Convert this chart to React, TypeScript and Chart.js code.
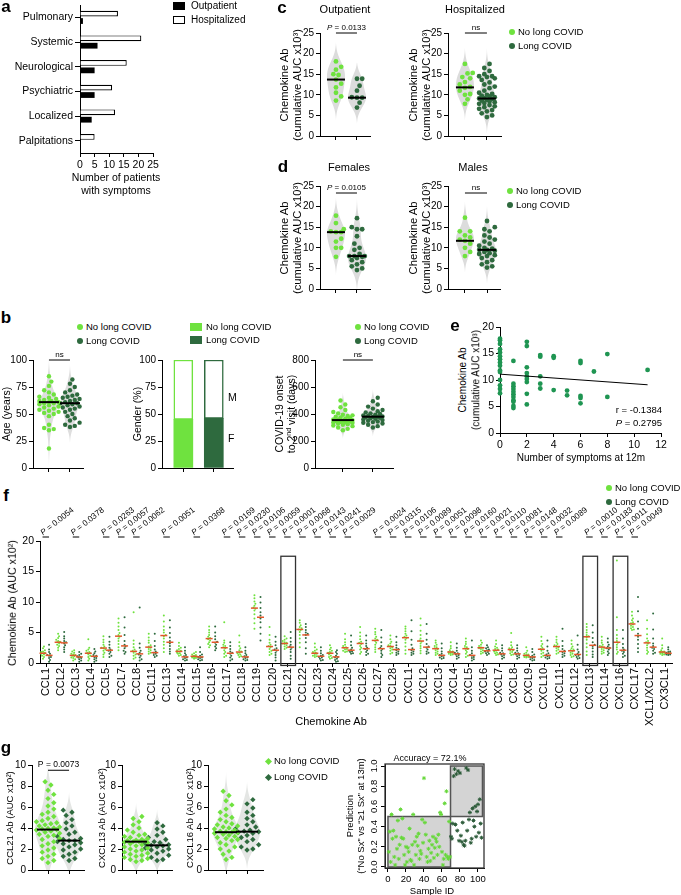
import React, { useEffect, useRef } from 'react';
import { Chart, registerables } from 'chart.js';
Chart.register(...registerables);

const FONT = '"Liberation Sans", Arial, Helvetica, sans-serif';
Chart.defaults.font.family = FONT;
Chart.defaults.color = '#000';

const LIGHT = '#6fe23f';
const DARK = '#2e6a3e';
const E_COLOR = '#1f9552';
const MED_RED = '#e2572b';

// ---------------- DATA ----------------
// a
const A_CATEGORIES = ['Pulmonary', 'Systemic', 'Neurological', 'Psychiatric', 'Localized', 'Palpitations'];
const A_HOSPITALIZED = [13, 21, 16, 11, 12, 5];
const A_OUTPATIENT = [1, 6, 5, 5, 4, 0];

// b
const B_AGE_NOLONG = [85, 80, 76, 72, 70, 68, 66, 65, 64, 63, 62, 62, 61, 61, 60, 60, 59, 58, 57, 56, 55, 54, 53, 52, 51, 50, 48, 40, 37, 36, 35, 18];
const B_AGE_LONG = [82, 78, 75, 72, 70, 68, 67, 66, 65, 64, 63, 62, 61, 60, 60, 59, 58, 57, 56, 55, 54, 52, 50, 48, 46, 44, 42, 40, 39, 38];
const B_AGE_MEDIANS = [61, 60];
const B_GENDER_F = [45, 46];
const B_ONSET_NOLONG = [500, 470, 450, 430, 415, 405, 395, 390, 385, 380, 375, 370, 365, 360, 357, 355, 353, 350, 348, 345, 342, 340, 337, 335, 330, 325, 320, 315, 310, 300, 290, 280];
const B_ONSET_LONG = [520, 495, 470, 455, 440, 430, 420, 412, 405, 400, 395, 390, 386, 382, 380, 378, 375, 372, 368, 365, 360, 355, 350, 345, 340, 335, 330, 320, 310, 300];
const B_ONSET_MEDIANS = [355, 380];

// c
const C_OUT_NOLONG = [18.1, 16.8, 16.1, 15.0, 14.8, 13.7, 12.7, 11.8, 10.5, 9.6, 8.6];
const C_OUT_LONG = [13.9, 13.9, 12.2, 11.0, 9.4, 9.3, 9.3, 8.1, 6.9];
const C_OUT_MEDIANS = [13.7, 9.3];
const C_HOSP_NOLONG = [17.5, 15.3, 15.2, 14.3, 14.0, 13.1, 12.5, 11.9, 11.7, 11.0, 10.2, 10.0, 8.9, 7.8];
const C_HOSP_LONG = [17.5, 16.5, 15.8, 15.0, 14.5, 14.5, 14.3, 14.0, 13.6, 13.0, 12.5, 12.0, 11.6, 11.0, 10.5, 10.2, 10.0, 9.8, 9.6, 9.4, 9.2, 9.1, 9.0, 8.8, 8.6, 8.4, 8.2, 8.0, 7.8, 7.5, 7.2, 7.0, 6.6, 6.3, 6.0, 5.5, 5.0, 4.6];
const C_HOSP_MEDIANS = [11.8, 9.1];

// d
const D_FEM_NOLONG = [17.8, 16.0, 14.5, 14.0, 13.8, 13.8, 12.2, 11.5, 10.0, 10.0, 7.8];
const D_FEM_LONG = [17.2, 15.0, 14.5, 14.5, 12.8, 11.0, 10.0, 9.5, 8.5, 8.0, 8.0, 8.0, 7.8, 7.5, 7.0, 6.5, 6.0, 5.5, 5.0, 4.6];
const D_FEM_MEDIANS = [13.8, 8.0];
const D_MALE_NOLONG = [17.3, 14.0, 14.0, 13.0, 12.5, 12.0, 11.7, 11.0, 10.0, 9.0, 8.0];
const D_MALE_LONG = [16.5, 15.0, 14.5, 14.0, 13.0, 12.5, 12.0, 11.5, 11.0, 10.5, 10.0, 9.8, 9.5, 9.5, 9.3, 9.0, 8.7, 8.5, 8.2, 8.0, 7.5, 7.0, 6.5, 6.0, 5.5, 5.2];
const D_MALE_MEDIANS = [11.7, 9.5];

// e
const E_SYMPTOMS = [0, 0, 0, 0, 0, 0, 0, 0, 0, 0, 0, 0, 0, 0, 0, 1, 1, 1, 1, 1, 1, 1, 1, 1, 1, 1, 2, 2, 2, 2, 2, 2, 2, 2, 2, 3, 3, 3, 3, 3, 4, 4, 4, 5, 5, 6, 6, 6, 6, 6, 7, 8, 8, 11];
const E_AB = [17.8, 17.5, 16.8, 15.8, 15.2, 14.5, 13.9, 13.3, 12.7, 11.8, 11.5, 10.0, 9.0, 8.3, 7.5, 13.6, 9.3, 8.8, 8.3, 7.8, 7.3, 6.8, 6.2, 5.9, 5.1, 4.7, 17.2, 16.4, 12.4, 11.3, 10.7, 10.2, 9.6, 7.4, 5.4, 14.7, 14.4, 10.7, 9.3, 8.4, 14.5, 14.2, 8.1, 8.0, 7.1, 13.6, 13.2, 7.0, 6.6, 5.6, 11.6, 14.9, 6.8, 11.9];
const E_FIT_X = [0, 11];
const E_FIT_Y = [11.1, 9.1];

// f
const F_CATEGORIES = ['CCL1', 'CCL2', 'CCL3', 'CCL4', 'CCL5', 'CCL7', 'CCL8', 'CCL11', 'CCL13', 'CCL14', 'CCL15', 'CCL16', 'CCL17', 'CCL18', 'CCL19', 'CCL20', 'CCL21', 'CCL22', 'CCL23', 'CCL24', 'CCL25', 'CCL26', 'CCL27', 'CCL28', 'CXCL1', 'CXCL2', 'CXCL3', 'CXCL4', 'CXCL5', 'CXCL6', 'CXCL7', 'CXCL8', 'CXCL9', 'CXCL10', 'CXCL11', 'CXCL12', 'CXCL13', 'CXCL14', 'CXCL16', 'CXCL17', 'XCL1/XCL2', 'CX3CL1'];
const F_PVALUES = ['0.0054', '', '0.0378', '', '0.0263', '0.0057', '0.0062', '', '0.0051', '', '0.0368', '', '0.0169', '0.0230', '0.0106', '0.0059', '0.0001', '0.0068', '0.0143', '0.0241', '0.0029', '', '0.0024', '0.0315', '0.0106', '0.0089', '0.0051', '0.0098', '0.0160', '0.0021', '0.0110', '0.0081', '0.0148', '0.0032', '0.0089', '', '0.0010', '0.0183', '0.0011', '0.0049', '', ''];
const F_MED_NOLONG = [1.6, 3.4, 1.25, 1.6, 2.45, 4.4, 1.9, 2.6, 4.5, 1.9, 1.1, 4.0, 2.5, 1.8, 9.0, 2.7, 3.2, 5.5, 1.6, 1.6, 2.5, 3.2, 3.7, 2.7, 4.15, 3.6, 2.35, 1.8, 2.35, 2.5, 2.1, 2.2, 1.25, 2.25, 2.7, 2.0, 4.3, 2.6, 3.4, 6.4, 3.3, 1.8];
const F_MED_LONG = [1.25, 3.3, 1.0, 1.1, 2.1, 2.8, 1.5, 1.7, 3.4, 1.0, 1.0, 3.4, 1.6, 1.0, 7.5, 2.1, 2.6, 4.6, 1.1, 1.0, 2.1, 2.35, 2.35, 2.2, 2.2, 2.6, 1.25, 1.5, 1.25, 2.0, 1.5, 1.5, 1.0, 1.25, 1.9, 1.4, 2.9, 2.45, 2.1, 4.5, 2.6, 1.6];
const F_NOLONG = [
  [2.7, 2.4, 2.1, 1.9, 1.8, 1.7, 1.6, 1.5, 1.4, 1.2, 1.0, 0.7],
  [4.8, 4.4, 4.1, 3.8, 3.6, 3.5, 3.4, 3.2, 3.0, 2.8, 2.5, 2.1],
  [2.1, 1.9, 1.7, 1.5, 1.4, 1.3, 1.2, 1.1, 0.9, 0.8, 0.6, 0.4],
  [3.9, 2.5, 2.2, 2.0, 1.8, 1.7, 1.6, 1.4, 1.2, 1.0, 0.7, 0.4],
  [4.4, 3.8, 3.4, 3.0, 2.7, 2.5, 2.4, 2.2, 2.0, 1.7, 1.4, 1.0],
  [7.3, 6.6, 6.0, 5.4, 4.9, 4.6, 4.3, 4.0, 3.6, 3.1, 2.6, 2.1],
  [8.3, 3.7, 3.1, 2.6, 2.2, 2.0, 1.9, 1.7, 1.4, 1.2, 0.9, 0.7],
  [4.8, 4.2, 3.7, 3.3, 2.9, 2.7, 2.5, 2.3, 2.1, 1.9, 1.7, 1.5],
  [7.8, 6.8, 6.0, 5.4, 5.0, 4.6, 4.4, 4.0, 3.5, 3.0, 2.4, 1.8],
  [3.3, 2.8, 2.5, 2.3, 2.1, 2.0, 1.9, 1.7, 1.6, 1.5, 1.3, 1.2],
  [1.8, 1.6, 1.4, 1.3, 1.2, 1.1, 1.1, 1.0, 0.9, 0.9, 0.8, 0.7],
  [6.0, 5.4, 5.0, 4.6, 4.3, 4.1, 3.9, 3.7, 3.4, 3.1, 2.9, 2.6],
  [6.7, 3.7, 3.3, 3.0, 2.8, 2.6, 2.4, 2.1, 1.8, 1.5, 1.2, 1.0],
  [4.5, 3.4, 2.8, 2.4, 2.1, 1.9, 1.7, 1.6, 1.4, 1.3, 1.1, 1.0],
  [11.1, 10.6, 10.1, 9.7, 9.4, 9.1, 8.9, 8.6, 8.0, 7.3, 6.5, 5.6],
  [5.9, 4.6, 3.8, 3.3, 3.0, 2.8, 2.6, 2.3, 2.0, 1.8, 1.5, 1.3],
  [4.4, 4.0, 3.8, 3.6, 3.4, 3.3, 3.2, 3.1, 2.9, 2.7, 2.5, 2.3],
  [7.0, 6.6, 6.2, 5.9, 5.7, 5.5, 5.4, 5.1, 4.6, 4.0, 3.3, 2.6],
  [3.2, 2.6, 2.2, 2.0, 1.8, 1.7, 1.6, 1.5, 1.3, 1.2, 1.1, 1.0],
  [2.9, 2.5, 2.2, 2.0, 1.8, 1.7, 1.6, 1.4, 1.2, 1.0, 0.8, 0.7],
  [4.8, 3.9, 3.4, 3.0, 2.8, 2.6, 2.5, 2.3, 2.2, 2.0, 1.9, 1.8],
  [5.9, 5.0, 4.4, 3.9, 3.5, 3.3, 3.1, 2.8, 2.5, 2.2, 1.8, 1.5],
  [5.6, 5.1, 4.7, 4.3, 4.0, 3.8, 3.6, 3.3, 3.0, 2.6, 2.2, 1.8],
  [4.5, 3.9, 3.5, 3.2, 2.9, 2.8, 2.6, 2.4, 2.2, 2.0, 1.7, 1.5],
  [6.0, 5.6, 5.2, 4.8, 4.5, 4.3, 4.1, 3.8, 3.3, 2.7, 2.1, 1.5],
  [7.3, 6.2, 5.3, 4.6, 4.0, 3.7, 3.5, 3.2, 2.8, 2.4, 2.0, 1.6],
  [3.7, 3.3, 3.0, 2.8, 2.6, 2.4, 2.3, 2.1, 1.9, 1.7, 1.5, 1.3],
  [3.4, 2.8, 2.4, 2.1, 1.9, 1.8, 1.8, 1.7, 1.6, 1.5, 1.4, 1.3],
  [4.0, 3.5, 3.1, 2.8, 2.6, 2.4, 2.3, 2.1, 1.8, 1.5, 1.2, 1.0],
  [3.7, 3.3, 3.0, 2.8, 2.6, 2.5, 2.4, 2.3, 2.1, 1.9, 1.7, 1.5],
  [3.7, 3.1, 2.7, 2.5, 2.3, 2.2, 2.0, 1.9, 1.7, 1.6, 1.4, 1.3],
  [4.9, 3.4, 2.9, 2.6, 2.4, 2.3, 2.1, 2.0, 1.8, 1.6, 1.4, 1.3],
  [2.6, 2.0, 1.7, 1.5, 1.4, 1.3, 1.2, 1.2, 1.1, 1.0, 1.0, 0.9],
  [4.3, 3.6, 3.1, 2.8, 2.5, 2.3, 2.2, 2.0, 1.7, 1.5, 1.2, 1.0],
  [4.3, 3.8, 3.4, 3.1, 2.9, 2.8, 2.6, 2.4, 2.2, 2.0, 1.7, 1.5],
  [3.7, 3.1, 2.7, 2.4, 2.2, 2.1, 1.9, 1.7, 1.5, 1.3, 1.1, 1.0],
  [6.4, 5.9, 5.4, 5.0, 4.6, 4.4, 4.2, 3.8, 3.2, 2.6, 1.9, 1.3],
  [4.3, 3.7, 3.3, 3.0, 2.8, 2.7, 2.5, 2.3, 2.1, 1.9, 1.7, 1.5],
  [16.8, 7.5, 5.4, 4.6, 4.0, 3.6, 3.3, 3.0, 2.6, 2.2, 1.8, 1.5],
  [8.4, 7.8, 7.3, 7.0, 6.7, 6.5, 6.3, 6.1, 5.9, 5.7, 5.5, 5.4],
  [7.0, 5.6, 4.7, 4.0, 3.6, 3.4, 3.2, 2.9, 2.5, 2.1, 1.8, 1.5],
  [4.0, 2.9, 2.4, 2.1, 1.9, 1.8, 1.8, 1.7, 1.6, 1.5, 1.4, 1.3],
];
const F_LONG = [
  [3.0, 2.2, 1.8, 1.5, 1.3, 1.2, 1.0, 0.8, 0.5, 0.2],
  [5.1, 4.4, 4.0, 3.6, 3.4, 3.2, 2.9, 2.6, 2.2, 1.8],
  [1.8, 1.5, 1.3, 1.1, 1.0, 0.9, 0.8, 0.6, 0.4, 0.2],
  [2.3, 1.9, 1.6, 1.3, 1.2, 1.0, 0.8, 0.6, 0.4, 0.2],
  [4.3, 3.5, 3.0, 2.5, 2.2, 2.0, 1.8, 1.5, 1.2, 1.0],
  [7.5, 5.8, 4.6, 3.6, 3.0, 2.7, 2.4, 2.0, 1.8, 1.5],
  [9.1, 3.2, 2.5, 2.0, 1.7, 1.4, 1.2, 0.9, 0.6, 0.4],
  [4.8, 3.6, 2.8, 2.2, 1.9, 1.7, 1.5, 1.3, 1.2, 1.0],
  [7.0, 5.8, 4.9, 4.2, 3.6, 3.2, 2.8, 2.3, 1.9, 1.5],
  [2.6, 2.0, 1.6, 1.3, 1.1, 0.9, 0.8, 0.6, 0.5, 0.4],
  [2.6, 1.8, 1.4, 1.2, 1.0, 0.9, 0.8, 0.6, 0.5, 0.4],
  [6.0, 5.0, 4.4, 3.9, 3.5, 3.3, 3.0, 2.7, 2.4, 2.1],
  [3.4, 2.8, 2.3, 1.9, 1.7, 1.5, 1.2, 0.9, 0.6, 0.4],
  [2.6, 2.0, 1.6, 1.3, 1.1, 0.9, 0.8, 0.6, 0.5, 0.4],
  [10.8, 9.9, 9.0, 8.3, 7.8, 7.3, 6.7, 5.8, 4.8, 3.7],
  [4.3, 3.5, 2.9, 2.4, 2.2, 2.0, 1.7, 1.3, 0.9, 0.4],
  [5.1, 4.1, 3.5, 3.0, 2.7, 2.5, 2.2, 1.8, 1.2, 0.7],
  [6.4, 5.9, 5.4, 5.0, 4.8, 4.6, 4.1, 3.4, 2.4, 1.5],
  [2.6, 2.0, 1.6, 1.3, 1.2, 1.0, 0.9, 0.7, 0.5, 0.4],
  [2.1, 1.8, 1.5, 1.2, 1.0, 0.9, 0.7, 0.5, 0.3, 0.2],
  [4.5, 3.5, 2.9, 2.5, 2.2, 2.0, 1.9, 1.8, 1.6, 1.5],
  [4.5, 3.7, 3.2, 2.8, 2.5, 2.3, 2.1, 1.8, 1.5, 1.3],
  [5.4, 4.2, 3.4, 2.8, 2.5, 2.3, 2.0, 1.6, 1.3, 1.0],
  [4.3, 3.4, 2.9, 2.5, 2.3, 2.1, 1.9, 1.7, 1.5, 1.3],
  [7.0, 5.2, 3.8, 3.0, 2.4, 2.1, 1.9, 1.7, 1.5, 1.3],
  [6.4, 4.8, 3.8, 3.1, 2.7, 2.5, 2.2, 1.9, 1.7, 1.5],
  [3.2, 2.4, 1.9, 1.5, 1.3, 1.2, 1.1, 0.9, 0.8, 0.7],
  [3.2, 2.5, 2.0, 1.7, 1.6, 1.4, 1.3, 1.1, 0.9, 0.7],
  [3.7, 2.6, 2.0, 1.6, 1.3, 1.2, 1.0, 0.8, 0.6, 0.4],
  [2.9, 2.6, 2.4, 2.2, 2.1, 1.9, 1.8, 1.6, 1.5, 1.3],
  [2.9, 2.4, 2.0, 1.7, 1.6, 1.4, 1.3, 1.1, 0.9, 0.7],
  [2.9, 2.4, 2.0, 1.7, 1.6, 1.4, 1.3, 1.1, 0.9, 0.7],
  [2.3, 1.8, 1.4, 1.2, 1.0, 0.9, 0.8, 0.6, 0.5, 0.4],
  [3.7, 2.7, 2.0, 1.6, 1.4, 1.2, 1.1, 0.9, 0.8, 0.7],
  [5.6, 3.6, 2.8, 2.3, 2.0, 1.8, 1.6, 1.4, 1.2, 1.0],
  [4.5, 3.0, 2.2, 1.8, 1.5, 1.3, 1.2, 1.0, 0.8, 0.7],
  [6.2, 5.0, 4.1, 3.4, 3.0, 2.8, 2.4, 1.9, 1.4, 1.0],
  [4.0, 3.4, 3.0, 2.7, 2.5, 2.4, 2.2, 1.9, 1.6, 1.3],
  [5.4, 4.0, 3.1, 2.5, 2.2, 2.0, 1.8, 1.5, 1.2, 1.0],
  [10.8, 8.5, 6.8, 5.6, 4.8, 4.3, 3.8, 3.1, 2.4, 1.8],
  [8.1, 5.5, 4.0, 3.2, 2.8, 2.5, 2.3, 2.0, 1.7, 1.5],
  [2.6, 2.2, 1.9, 1.8, 1.7, 1.6, 1.5, 1.4, 1.4, 1.3],
];
const F_BOXED = ['CCL21', 'CXCL13', 'CXCL16'];

// g
const G_CCL21_NOLONG = [8.4, 8.1, 7.6, 7.2, 6.8, 6.4, 6.1, 5.8, 5.5, 5.3, 5.1, 4.9, 4.7, 4.6, 4.5, 4.4, 4.3, 4.2, 4.1, 4.0, 3.95, 3.9, 3.85, 3.8, 3.7, 3.6, 3.5, 3.4, 3.3, 3.2, 3.0, 2.9, 2.7, 2.5, 2.3, 2.1, 1.9, 1.7, 1.5, 1.3, 1.1, 0.9, 0.7];
const G_CCL21_LONG = [5.7, 5.5, 5.2, 4.8, 4.5, 4.2, 3.9, 3.6, 3.4, 3.2, 3.0, 2.9, 2.8, 2.8, 2.7, 2.6, 2.5, 2.4, 2.2, 2.0, 1.9, 1.7, 1.5, 1.3, 1.1, 0.9];
const G_CCL21_MEDIANS = [3.85, 2.8];
const G_CXCL13_NOLONG = [5.1, 4.9, 4.6, 4.3, 4.0, 3.8, 3.6, 3.4, 3.3, 3.2, 3.1, 3.0, 2.9, 2.85, 2.8, 2.75, 2.7, 2.7, 2.65, 2.6, 2.5, 2.4, 2.3, 2.2, 2.1, 2.0, 1.9, 1.8, 1.7, 1.6, 1.5, 1.4, 1.3, 1.2, 1.1, 1.0, 0.9, 0.8];
const G_CXCL13_LONG = [4.5, 4.2, 3.9, 3.6, 3.3, 3.1, 2.9, 2.7, 2.6, 2.5, 2.4, 2.35, 2.3, 2.2, 2.1, 2.0, 1.9, 1.8, 1.6, 1.4, 1.2, 1.0, 0.9];
const G_CXCL13_MEDIANS = [2.7, 2.35];
const G_CXCL16_NOLONG = [7.5, 7.1, 6.6, 6.2, 5.8, 5.5, 5.2, 5.0, 4.8, 4.6, 4.4, 4.3, 4.2, 4.1, 4.0, 3.9, 3.8, 3.7, 3.65, 3.6, 3.55, 3.5, 3.4, 3.3, 3.2, 3.1, 3.0, 2.9, 2.8, 2.6, 2.4, 2.2, 2.0, 1.8, 1.5, 1.2, 1.0];
const G_CXCL16_LONG = [6.7, 6.3, 5.9, 5.5, 5.2, 4.9, 4.6, 4.3, 4.1, 3.9, 3.8, 3.7, 3.65, 3.6, 3.5, 3.3, 3.1, 2.9, 2.7, 2.4, 2.2, 2.0, 1.9];
const G_CXCL16_MEDIANS = [3.6, 3.65];
const G_PRED_NOLONG = [0.15, 0.35, 0.05, 0.52, 0.28, 0.36, 0.10, 0.02, 0.30, 0.18, 0.46, 0.08, 0.22, 0.57, 0.29, 0.48, 0.28, 0.12, 0.02, 0.20, 0.05, 0.19, 0.15, 0.38, 0.07, 0.06, 0.22, 0.52, 0.02, 0.25, 0.12, 0.30, 0.21, 0.33, 0.08, 0.16, 0.13, 0.47, 0.24, 0.88, 0.44, 0.32, 0.10, 0.05, 0.18, 0.26, 0.06, 0.14, 0.22, 0.30, 0.09, 0.19, 0.28, 0.25, 0.12, 0.32, 0.20, 0.54, 0.52, 0.15, 0.02, 0.08, 0.63, 0.12, 0.75, 0.10, 0.08, 0.45, 0.10];
const G_PRED_LONG = [0.30, 0.28, 0.43, 0.90, 0.97, 0.42, 0.92, 0.36, 0.95, 0.26, 0.93, 0.31, 0.25, 0.44, 0.22, 0.21, 0.26, 0.98, 0.36, 0.96, 0.47, 0.54, 0.24, 0.28, 0.58, 0.46, 0.40, 0.60, 0.30, 0.55, 0.62, 0.34, 0.67, 0.43, 0.29];
const G_REGION_X = [0, 69.5, 105];
const G_REGION_Y = [0, 0.5, 1.0];

// ---------------- HELPERS ----------------
type Frame = { x: number; y: number; w: number; h: number; yw: number; xh: number; pt: number; pr: number; L: number; T: number; R: number; B: number };
function frame(L: number, T: number, R: number, B: number, yw: number, xh: number, pt = 16, pr = 16): Frame {
  L = Math.round(L); T = Math.round(T); R = Math.round(R); B = Math.round(B);
  return { x: L - yw, y: T - pt, w: R - L + yw + pr, h: B - T + pt + xh, yw, xh, pt, pr, L, T, R, B };
}

const TICK_GRID = { display: true, drawOnChartArea: false, drawTicks: true, tickLength: 4, color: '#000', lineWidth: 1, offset: false };
const BORDER = { display: true, color: '#000', width: 1 };

function yAxis(f: Frame, min: number, max: number, ticks: number[], size = 10, extraTicks: any = {}) {
  return {
    type: 'linear', min, max, offset: false,
    afterFit: (s: any) => { s.width = f.yw; },
    afterBuildTicks: (s: any) => { s.ticks = ticks.map((v) => ({ value: v })); },
    ticks: { font: { size }, color: '#000', padding: 2, autoSkip: false, ...extraTicks },
    grid: TICK_GRID,
    border: BORDER,
  };
}
function xAxis(f: Frame, min: number, max: number, ticks: number[], size = 10, labels = true, extraTicks: any = {}) {
  return {
    type: 'linear', min, max, offset: false,
    afterFit: (s: any) => { s.height = f.xh; },
    afterBuildTicks: (s: any) => { s.ticks = ticks.map((v) => ({ value: v })); },
    ticks: { display: labels, font: { size }, color: '#000', padding: 2, autoSkip: false, maxRotation: 0, minRotation: 0, ...extraTicks },
    grid: TICK_GRID,
    border: BORDER,
  };
}
function baseOptions(f: Frame, scales: any, extra: any = {}) {
  return {
    responsive: false, maintainAspectRatio: false, animation: false, events: [], devicePixelRatio: 1,
    layout: { autoPadding: false, padding: { top: f.pt, right: f.pr, bottom: 0, left: 0 } },
    plugins: { legend: { display: false }, tooltip: { enabled: false }, title: { display: false } },
    scales,
    ...extra,
  };
}

function swarm(values: number[], pxPerUnit: number, d: number, maxOff: number): number[] {
  const order = values.map((_, i) => i).sort((a, b) => values[a] - values[b]);
  const placed: number[][] = [];
  const out = new Array(values.length).fill(0);
  const step = d / 2;
  for (const i of order) {
    const y = values[i] * pxPerUnit;
    let best = 0, bestDist = -1;
    for (let k = 0; ; k++) {
      const off = k === 0 ? 0 : (k % 2 ? 1 : -1) * Math.ceil(k / 2) * step;
      if (Math.abs(off) > maxOff) break;
      let md = Infinity;
      for (const p of placed) {
        const dd = Math.hypot(p[0] - off, p[1] - y);
        if (dd < md) md = dd;
      }
      if (md >= d) { best = off; bestDist = md; break; }
      if (md > bestDist) { bestDist = md; best = off; }
    }
    placed.push([best, y]);
    out[i] = best;
  }
  return out;
}

function kde(values: number[], lo: number, hi: number, n = 90): number[][] {
  const m = values.length;
  const mean = values.reduce((a, b) => a + b, 0) / m;
  const sd = Math.sqrt(values.reduce((a, b) => a + (b - mean) * (b - mean), 0) / (m - 1));
  const bw = 1.06 * sd * Math.pow(m, -0.2);
  const a = Math.max(lo, Math.min(...values) - 2.3 * bw);
  const b = Math.min(hi, Math.max(...values) + 2.3 * bw);
  const pts: number[][] = [];
  for (let i = 0; i <= n; i++) {
    const y = a + ((b - a) * i) / n;
    let s = 0;
    for (const v of values) s += Math.exp(-0.5 * ((y - v) / bw) ** 2);
    pts.push([y, s]);
  }
  const mx = Math.max(...pts.map((p) => p[1]));
  const base = Math.min(pts[0][1], pts[n][1]);
  return pts.map(([y, s]) => [y, Math.max(0, (s - base * 0.9) / (mx - base * 0.9))]);
}

function pText(ctx: CanvasRenderingContext2D, txt: string, x: number, y: number, size: number, italicP: boolean, align: string) {
  ctx.save();
  ctx.fillStyle = '#000';
  ctx.textBaseline = 'alphabetic';
  ctx.textAlign = 'left';
  const reg = `${size}px ${FONT}`;
  const ita = `italic ${size}px ${FONT}`;
  let head = '';
  let rest = txt;
  if (italicP && txt.startsWith('P')) { head = 'P'; rest = txt.slice(1); }
  ctx.font = ita;
  const wh = head ? ctx.measureText(head).width : 0;
  ctx.font = reg;
  const wr = ctx.measureText(rest).width;
  const sx = align === 'center' ? x - (wh + wr) / 2 : align === 'right' ? x - wh - wr : x;
  if (head) { ctx.font = ita; ctx.fillText(head, sx, y); }
  ctx.font = reg;
  ctx.fillText(rest, sx + wh, y);
  ctx.restore();
}

type Group = { values: number[]; color: string; median: number; x: number };
function dotConfig(f: Frame, o: any) {
  const yMin = o.yMin ?? 0;
  const pxY = (f.B - f.T) / (o.yMax - yMin);
  const pxX = (f.R - f.L) / (o.xMax - o.xMin);
  const groups: Group[] = o.groups;
  const datasets = groups.map((g) => {
    const offs = swarm(g.values, pxY, o.r * 2 + 0.4, o.maxOff ?? 12);
    return {
      data: g.values.map((v, i) => ({ x: g.x + offs[i] / pxX, y: v })),
      pointRadius: o.r, pointStyle: o.style || 'circle', backgroundColor: g.color, borderColor: g.color,
      borderWidth: 0, clip: false,
    };
  });
  const plugin = {
    id: 'dotDecor',
    beforeDatasetsDraw(chart: any) {
      if (!o.violinHalf) return;
      const { ctx, scales: { x, y } } = chart;
      ctx.save();
      ctx.fillStyle = o.violinColor || '#dcdcdc';
      for (const g of groups) {
        const pts = kde(g.values, yMin, o.yMax);
        const cx = x.getPixelForValue(g.x);
        ctx.beginPath();
        pts.forEach(([v, w], i) => {
          const px = cx + w * o.violinHalf, py = y.getPixelForValue(v);
          if (i === 0) ctx.moveTo(px, py); else ctx.lineTo(px, py);
        });
        for (let i = pts.length - 1; i >= 0; i--) ctx.lineTo(cx - pts[i][1] * o.violinHalf, y.getPixelForValue(pts[i][0]));
        ctx.closePath();
        ctx.fill();
      }
      ctx.restore();
    },
    afterDatasetsDraw(chart: any) {
      const { ctx, scales: { x, y } } = chart;
      ctx.save();
      ctx.strokeStyle = '#000';
      ctx.lineWidth = 2;
      for (const g of groups) {
        const cx = x.getPixelForValue(g.x), py = y.getPixelForValue(g.median);
        ctx.beginPath(); ctx.moveTo(cx - o.medHalf, py); ctx.lineTo(cx + o.medHalf, py); ctx.stroke();
      }
      if (o.sig) {
        const py = y.getPixelForValue(o.sig.y);
        ctx.lineWidth = 1;
        ctx.beginPath(); ctx.moveTo(x.getPixelForValue(0), py); ctx.lineTo(x.getPixelForValue(1), py); ctx.stroke();
        pText(ctx, o.sig.text, x.getPixelForValue(0.5), py - 3, o.sig.size || 8, !!o.sig.italic, 'center');
      }
      ctx.restore();
    },
  };
  return {
    type: 'scatter',
    data: { datasets },
    options: baseOptions(f, {
      x: xAxis(f, o.xMin, o.xMax, [0, 1], 10, false),
      y: yAxis(f, yMin, o.yMax, o.yTicks, o.tickSize || 10),
    }),
    plugins: [plugin],
  };
}

// ---------------- FRAMES ----------------
const FA = frame(80, 5, 153, 153, 80, 22, 10, 16);
const FB1 = frame(33, 360, 83, 468, 33, 8);
const FB2 = frame(162, 360, 233, 468, 33, 8);
const FB3 = frame(315, 360, 393, 468, 40, 8);
const FC1 = frame(320, 33, 370, 136, 30, 8);
const FC2 = frame(448, 33, 501, 136, 30, 8);
const FD1 = frame(320, 186, 370, 289, 30, 8);
const FD2 = frame(448, 186, 500, 289, 30, 8);
const FE = frame(500, 327, 661, 433, 30, 22);
const FF = frame(40, 541, 672, 663, 30, 70, 50, 8);
const FG1 = frame(32, 765, 84, 870, 24, 8);
const FG2 = frame(122, 765, 172, 870, 24, 8);
const FG3 = frame(208, 765, 263, 870, 24, 8);
const FG4 = frame(385, 764, 484, 868, 22, 16);

// ---------------- CHART MAKERS ----------------
function makeA() {
  const f = FA;
  return {
    type: 'bar',
    data: {
      labels: A_CATEGORIES,
      datasets: [
        { label: 'Hospitalized', data: A_HOSPITALIZED, backgroundColor: '#fff', borderColor: '#000', borderWidth: 1.2, categoryPercentage: 0.6, barPercentage: 0.78, borderSkipped: 'start' },
        { label: 'Outpatient', data: A_OUTPATIENT, backgroundColor: '#000', borderColor: '#000', borderWidth: 0, categoryPercentage: 0.6, barPercentage: 0.78 },
      ],
    },
    options: baseOptions(f, {
      x: xAxis(f, 0, 25, [0, 5, 10, 15, 20, 25], 10.5),
      y: {
        type: 'category', offset: true,
        afterFit: (s: any) => { s.width = f.yw; },
        ticks: { font: { size: 10.5 }, color: '#000', padding: 2, autoSkip: false },
        grid: { ...TICK_GRID, tickLength: 5 },
        border: BORDER,
      },
    }, { indexAxis: 'y' }),
  };
}

function makeB1() {
  return dotConfig(FB1, {
    yMax: 100, yTicks: [0, 25, 50, 75, 100], xMin: -0.76, xMax: 1.62, r: 2.2, maxOff: 10,
    groups: [
      { values: B_AGE_NOLONG, color: LIGHT, median: B_AGE_MEDIANS[0], x: 0 },
      { values: B_AGE_LONG, color: DARK, median: B_AGE_MEDIANS[1], x: 1 },
    ],
    violinHalf: 9, violinColor: '#dedede', medHalf: 10, sig: { y: 100, text: 'ns', size: 8 },
  });
}

function makeB2() {
  const f = FB2;
  return {
    type: 'bar',
    data: {
      datasets: [
        { data: B_GENDER_F.map((v, i) => ({ x: i, y: v })), backgroundColor: [LIGHT, DARK], borderWidth: 0, barThickness: 19, grouped: false },
        { data: B_GENDER_F.map((v, i) => ({ x: i, y: [v, 100] })), backgroundColor: '#fff', borderColor: [LIGHT, DARK], borderWidth: 1.5, borderSkipped: false, barThickness: 19, grouped: false },
      ],
    },
    options: baseOptions(f, {
      x: xAxis(f, -0.7, 1.63, [0, 1], 10, false),
      y: yAxis(f, 0, 100, [0, 25, 50, 75, 100]),
    }),
  };
}

function makeB3() {
  return dotConfig(FB3, {
    yMax: 800, yTicks: [0, 200, 400, 600, 800], xMin: -0.93, xMax: 1.67, r: 2.2, maxOff: 12,
    groups: [
      { values: B_ONSET_NOLONG, color: LIGHT, median: B_ONSET_MEDIANS[0], x: 0 },
      { values: B_ONSET_LONG, color: DARK, median: B_ONSET_MEDIANS[1], x: 1 },
    ],
    violinHalf: 11, violinColor: '#dedede', medHalf: 11, sig: { y: 800, text: 'ns', size: 8 },
  });
}

function cdPanel(f: Frame, xMin: number, xMax: number, nl: number[], lc: number[], med: number[], sig: any) {
  return dotConfig(f, {
    yMax: 25, yTicks: [0, 5, 10, 15, 20, 25], xMin, xMax, r: 2.4, maxOff: 9,
    groups: [
      { values: nl, color: LIGHT, median: med[0], x: 0 },
      { values: lc, color: DARK, median: med[1], x: 1 },
    ],
    violinHalf: 9, violinColor: '#dcdcdc', medHalf: 9, sig,
  });
}
const makeC1 = () => cdPanel(FC1, -0.76, 1.62, C_OUT_NOLONG, C_OUT_LONG, C_OUT_MEDIANS, { y: 25, text: 'P = 0.0133', italic: true, size: 8 });
const makeC2 = () => cdPanel(FC2, -0.77, 1.64, C_HOSP_NOLONG, C_HOSP_LONG, C_HOSP_MEDIANS, { y: 25, text: 'ns', size: 8 });
const makeD1 = () => cdPanel(FD1, -0.76, 1.62, D_FEM_NOLONG, D_FEM_LONG, D_FEM_MEDIANS, { y: 23.3, text: 'P = 0.0105', italic: true, size: 8 });
const makeD2 = () => cdPanel(FD2, -0.77, 1.59, D_MALE_NOLONG, D_MALE_LONG, D_MALE_MEDIANS, { y: 23.3, text: 'ns', size: 8 });

function makeE() {
  const f = FE;
  return {
    type: 'scatter',
    data: {
      datasets: [
        { type: 'line', data: E_FIT_X.map((x, i) => ({ x, y: E_FIT_Y[i] })), borderColor: '#000', borderWidth: 1, pointRadius: 0, fill: false },
        { data: E_SYMPTOMS.map((x, i) => ({ x, y: E_AB[i] })), pointRadius: 2.4, backgroundColor: E_COLOR, borderColor: E_COLOR, borderWidth: 0, clip: false },
      ],
    },
    options: baseOptions(f, {
      x: xAxis(f, 0, 12, [0, 2, 4, 6, 8, 10, 12], 10.5),
      y: yAxis(f, 0, 20, [0, 5, 10, 15, 20], 10.5),
    }),
  };
}

function makeF() {
  const f = FF;
  const xMin = -0.4, xMax = 41.45;
  const pxY = (f.B - f.T) / 20, pxX = (f.R - f.L) / (xMax - xMin);
  const build = (sets: number[][], shift: number) => {
    const pts: any[] = [];
    sets.forEach((vals, i) => {
      const offs = swarm(vals, pxY, 1.9, 2.2);
      vals.forEach((v, k) => pts.push({ x: i + shift + offs[k] / pxX, y: v }));
    });
    return pts;
  };
  const decor = {
    id: 'fDecor',
    afterDatasetsDraw(chart: any) {
      const { ctx, scales: { x, y } } = chart;
      ctx.save();
      ctx.strokeStyle = MED_RED;
      ctx.lineWidth = 1.5;
      const med = (arr: number[], shift: number) => arr.forEach((m, i) => {
        const cx = x.getPixelForValue(i + shift), py = y.getPixelForValue(m);
        ctx.beginPath(); ctx.moveTo(cx - 3.5, py); ctx.lineTo(cx + 3.5, py); ctx.stroke();
      });
      med(F_MED_NOLONG, -0.2);
      med(F_MED_LONG, 0.2);
      ctx.strokeStyle = '#333';
      ctx.lineWidth = 1.3;
      F_BOXED.forEach((name) => {
        const i = F_CATEGORIES.indexOf(name);
        const x0 = x.getPixelForValue(i - 0.45), x1 = x.getPixelForValue(i + 0.52);
        const y0 = y.getPixelForValue(17.5), y1 = y.getPixelForValue(-0.4);
        ctx.strokeRect(x0, y0, x1 - x0, y1 - y0);
      });
      const uy = y.getPixelForValue(20) - 4;
      F_PVALUES.forEach((p, i) => {
        if (!p) return;
        const cx = x.getPixelForValue(i);
        ctx.strokeStyle = '#000'; ctx.lineWidth = 1;
        ctx.beginPath(); ctx.moveTo(cx - 3.5, uy); ctx.lineTo(cx + 3, uy); ctx.stroke();
        ctx.save();
        ctx.translate(cx - 3, uy - 1.5);
        ctx.rotate(-38 * Math.PI / 180);
        pText(ctx, 'P = ' + p, 0, 0, 8.2, true, 'left');
        ctx.restore();
      });
      ctx.restore();
    },
  };
  return {
    type: 'scatter',
    data: {
      datasets: [
        { data: build(F_NOLONG, -0.2), pointRadius: 1, backgroundColor: LIGHT, borderWidth: 0, clip: false },
        { data: build(F_LONG, 0.2), pointRadius: 1, backgroundColor: DARK, borderWidth: 0, clip: false },
      ],
    },
    options: baseOptions(f, {
      x: {
        ...xAxis(f, xMin, xMax, F_CATEGORIES.map((_, i) => i), 11),
        ticks: { display: true, font: { size: 11 }, color: '#000', padding: 1, autoSkip: false, minRotation: 90, maxRotation: 90, callback: (v: any) => F_CATEGORIES[Math.round(v)] },
      },
      y: yAxis(f, 0, 20, [0, 5, 10, 15, 20], 10.5),
    }),
    plugins: [decor],
  };
}

function gPanel(f: Frame, xMin: number, xMax: number, nl: number[], lc: number[], med: number[], sig: any) {
  return dotConfig(f, {
    yMax: 10, yTicks: [0, 2, 4, 6, 8, 10], xMin, xMax, r: 2.7, style: 'rectRot', maxOff: 12,
    groups: [
      { values: nl, color: LIGHT, median: med[0], x: 0 },
      { values: lc, color: DARK, median: med[1], x: 1 },
    ],
    violinHalf: 13, violinColor: '#e4e6e4', medHalf: 11, sig,
  });
}
const makeG1 = () => gPanel(FG1, -0.76, 1.71, G_CCL21_NOLONG, G_CCL21_LONG, G_CCL21_MEDIANS, { y: 9.5, text: 'P = 0.0073', italic: false, size: 8.5 });
const makeG2 = () => gPanel(FG2, -0.67, 1.71, G_CXCL13_NOLONG, G_CXCL13_LONG, G_CXCL13_MEDIANS, null);
const makeG3 = () => gPanel(FG3, -0.86, 1.76, G_CXCL16_NOLONG, G_CXCL16_LONG, G_CXCL16_MEDIANS, null);

function makeG4() {
  const f = FG4;
  const decor = {
    id: 'g4Decor',
    beforeDatasetsDraw(chart: any) {
      const { ctx, scales: { x, y } } = chart;
      ctx.save();
      ctx.fillStyle = '#d4d4d4';
      ctx.strokeStyle = '#555';
      ctx.lineWidth = 1.5;
      const rect = (x0: number, x1: number, y0: number, y1: number) => {
        const a = x.getPixelForValue(x0), b = x.getPixelForValue(x1), c = y.getPixelForValue(y1), d = y.getPixelForValue(y0);
        ctx.fillRect(a, c, b - a, d - c);
        ctx.strokeRect(a, c, b - a, d - c);
      };
      rect(G_REGION_X[0], G_REGION_X[1], G_REGION_Y[0], G_REGION_Y[1]);
      rect(G_REGION_X[1], G_REGION_X[2], G_REGION_Y[1], G_REGION_Y[2]);
      ctx.restore();
    },
    afterDraw(chart: any) {
      const { ctx, chartArea: a, scales: { y } } = chart;
      ctx.save();
      ctx.strokeStyle = '#333';
      ctx.lineWidth = 1.3;
      ctx.strokeRect(a.left, a.top, a.right - a.left, a.bottom - a.top);
      ctx.fillStyle = '#000';
      ctx.font = `9.5px ${FONT}`;
      ctx.textAlign = 'center';
      ctx.textBaseline = 'middle';
      [0, 0.2, 0.4, 0.6, 0.8, 1.0].forEach((v) => {
        ctx.save();
        ctx.translate(a.left - 11, y.getPixelForValue(v));
        ctx.rotate(-Math.PI / 2);
        ctx.fillText(v.toFixed(1), 0, 0);
        ctx.restore();
      });
      ctx.restore();
    },
  };
  return {
    type: 'scatter',
    data: {
      datasets: [
        { data: G_PRED_NOLONG.map((v, i) => ({ x: i + 1, y: v })), pointRadius: 2, pointStyle: 'star', borderColor: '#66d83a', backgroundColor: '#66d83a', borderWidth: 1, clip: false },
        { data: G_PRED_LONG.map((v, i) => ({ x: G_PRED_NOLONG.length + i + 1, y: v })), pointRadius: 2, pointStyle: 'star', borderColor: '#2b5a38', backgroundColor: '#2b5a38', borderWidth: 1, clip: false },
      ],
    },
    options: baseOptions(f, {
      x: xAxis(f, -3.3, 106.7, [0, 20, 40, 60, 80, 100], 9.5),
      y: yAxis(f, -0.01, 1.02, [0, 0.2, 0.4, 0.6, 0.8, 1.0], 9.5, { display: false }),
    }),
    plugins: [decor],
  };
}

// ---------------- COMPONENTS ----------------
function ChartBox({ f, make }: { f: Frame; make: () => any }) {
  const ref = useRef<HTMLCanvasElement | null>(null);
  useEffect(() => {
    const c = new Chart(ref.current as HTMLCanvasElement, make());
    return () => c.destroy();
  }, []);
  return <canvas ref={ref} width={f.w} height={f.h} style={{ position: 'absolute', left: f.x, top: f.y, width: f.w, height: f.h }} />;
}

function Txt({ x, y, s = 10.5, rot = 0, b = false, it = false, a = 'center', children }: any) {
  const tx = a === 'center' ? '-50%' : a === 'left' ? '0%' : '-100%';
  return (
    <div style={{ position: 'absolute', left: x, top: y, fontSize: s, fontWeight: b ? 'bold' : 'normal', fontStyle: it ? 'italic' : 'normal', whiteSpace: 'nowrap', lineHeight: 1.15, transform: `translate(${tx}, -50%) rotate(${rot}deg)` }}>
      {children}
    </div>
  );
}

function Mark({ x, y, kind, color }: any) {
  if (kind === 'dot') return <div style={{ position: 'absolute', left: x - 3, top: y - 3, width: 6, height: 6, borderRadius: '50%', background: color }} />;
  if (kind === 'dia') return <div style={{ position: 'absolute', left: x - 2.5, top: y - 2.5, width: 5, height: 5, background: color, transform: 'rotate(45deg)' }} />;
  if (kind === 'open') return <div style={{ position: 'absolute', left: x - 6, top: y - 4, width: 10, height: 6, background: '#fff', border: '1px solid #000' }} />;
  return <div style={{ position: 'absolute', left: x - 6, top: y - 4, width: 12, height: 8, background: color }} />;
}

function DotLegend({ x, y, gap = 13.5, kind = 'dot' }: any) {
  return (
    <>
      <Mark x={x} y={y} kind={kind} color={LIGHT} />
      <Txt x={x + 6} y={y} s={9.5} a="left">No long COVID</Txt>
      <Mark x={x} y={y + gap} kind={kind} color={DARK} />
      <Txt x={x + 6} y={y + gap} s={9.5} a="left">Long COVID</Txt>
    </>
  );
}

export default function App() {
  return (
    <div style={{ position: 'fixed', left: 0, top: 0, width: 681, height: 895, background: '#fff', overflow: 'hidden', fontFamily: FONT, color: '#000' }}>
      {/* a */}
      <ChartBox f={FA} make={makeA} />
      <Txt x={6} y={7} s={17} b>a</Txt>
      <Mark x={179} y={6} kind="sq" color="#000" />
      <Txt x={191} y={6} s={10} a="left">Outpatient</Txt>
      <Mark x={179} y={20} kind="open" color="#fff" />
      <Txt x={191} y={20} s={10} a="left">Hospitalized</Txt>
      <Txt x={116} y={177}>Number of patients</Txt>
      <Txt x={116} y={190}>with symptoms</Txt>

      {/* c */}
      <ChartBox f={FC1} make={makeC1} />
      <ChartBox f={FC2} make={makeC2} />
      <Txt x={282} y={8} s={17} b>c</Txt>
      <Txt x={345} y={9} s={11}>Outpatient</Txt>
      <Txt x={475} y={9} s={11}>Hospitalized</Txt>
      <Txt x={284} y={85} s={11.2} rot={-90}>Chemokine Ab</Txt>
      <Txt x={297} y={85} s={11.2} rot={-90}>(cumulative AUC x10³)</Txt>
      <Txt x={413} y={85} s={11.2} rot={-90}>Chemokine Ab</Txt>
      <Txt x={426} y={85} s={11.2} rot={-90}>(cumulative AUC x10³)</Txt>
      <DotLegend x={512} y={32} />

      {/* d */}
      <ChartBox f={FD1} make={makeD1} />
      <ChartBox f={FD2} make={makeD2} />
      <Txt x={283} y={167} s={17} b>d</Txt>
      <Txt x={349} y={167} s={11}>Females</Txt>
      <Txt x={473} y={167} s={11}>Males</Txt>
      <Txt x={284} y={238} s={11.2} rot={-90}>Chemokine Ab</Txt>
      <Txt x={297} y={238} s={11.2} rot={-90}>(cumulative AUC x10³)</Txt>
      <Txt x={413} y={238} s={11.2} rot={-90}>Chemokine Ab</Txt>
      <Txt x={426} y={238} s={11.2} rot={-90}>(cumulative AUC x10³)</Txt>
      <DotLegend x={510} y={191} />

      {/* b */}
      <ChartBox f={FB1} make={makeB1} />
      <ChartBox f={FB2} make={makeB2} />
      <ChartBox f={FB3} make={makeB3} />
      <Txt x={6} y={318} s={17} b>b</Txt>
      <DotLegend x={80} y={327} />
      <Mark x={196} y={327} kind="sq" color={LIGHT} />
      <Txt x={206} y={327} s={9.5} a="left">No long COVID</Txt>
      <Mark x={196} y={340} kind="sq" color={DARK} />
      <Txt x={206} y={340} s={9.5} a="left">Long COVID</Txt>
      <DotLegend x={358} y={327} />
      <Txt x={6} y={414} s={10.5} rot={-90}>Age (years)</Txt>
      <Txt x={137} y={414} s={10.5} rot={-90}>Gender (%)</Txt>
      <Txt x={228} y={397} s={10.5} a="left">M</Txt>
      <Txt x={228} y={438} s={10.5} a="left">F</Txt>
      <Txt x={279} y={414} s={10.5} rot={-90}>COVID-19 onset</Txt>
      <Txt x={291} y={414} s={10.5} rot={-90}>to 2<sup style={{ fontSize: 7 }}>nd</sup> visit (days)</Txt>

      {/* e */}
      <ChartBox f={FE} make={makeE} />
      <Txt x={455} y={326} s={17} b>e</Txt>
      <Txt x={463} y={380} s={10} rot={-90}>Chemokine Ab</Txt>
      <Txt x={476} y={380} s={10} rot={-90}>(cumulative AUC x10³)</Txt>
      <Txt x={581} y={458} s={10}>Number of symptoms at 12m</Txt>
      <Txt x={662} y={410} s={9.5} a="right">r = -0.1384</Txt>
      <Txt x={662} y={423} s={9.5} a="right"><i>P</i> = 0.2795</Txt>

      {/* f */}
      <ChartBox f={FF} make={makeF} />
      <Txt x={6} y={496} s={17} b>f</Txt>
      <DotLegend x={609} y={488} />
      <Txt x={12} y={603} s={10.7} rot={-90}>Chemokine Ab (AUC x10²)</Txt>
      <Txt x={331} y={721} s={11}>Chemokine Ab</Txt>

      {/* g */}
      <ChartBox f={FG1} make={makeG1} />
      <ChartBox f={FG2} make={makeG2} />
      <ChartBox f={FG3} make={makeG3} />
      <ChartBox f={FG4} make={makeG4} />
      <Txt x={6} y={748} s={17} b>g</Txt>
      <Txt x={10} y={818} s={9.5} rot={-90}>CCL21 Ab (AUC x10²)</Txt>
      <Txt x={102} y={818} s={9.5} rot={-90}>CXCL13 Ab (AUC x10²)</Txt>
      <Txt x={190} y={818} s={9.5} rot={-90}>CXCL16 Ab (AUC x10²)</Txt>
      <DotLegend x={268} y={761} gap={16} kind="dia" />
      <Txt x={430} y={758} s={9}>Accuracy = 72.1%</Txt>
      <Txt x={432} y={891} s={9.5}>Sample ID</Txt>
      <Txt x={350} y={816} s={9.5} rot={-90}>Prediction</Txt>
      <Txt x={361} y={816} s={9.5} rot={-90}>(“No Sx” vs “≥1 Sx” at 13m)</Txt>
    </div>
  );
}
